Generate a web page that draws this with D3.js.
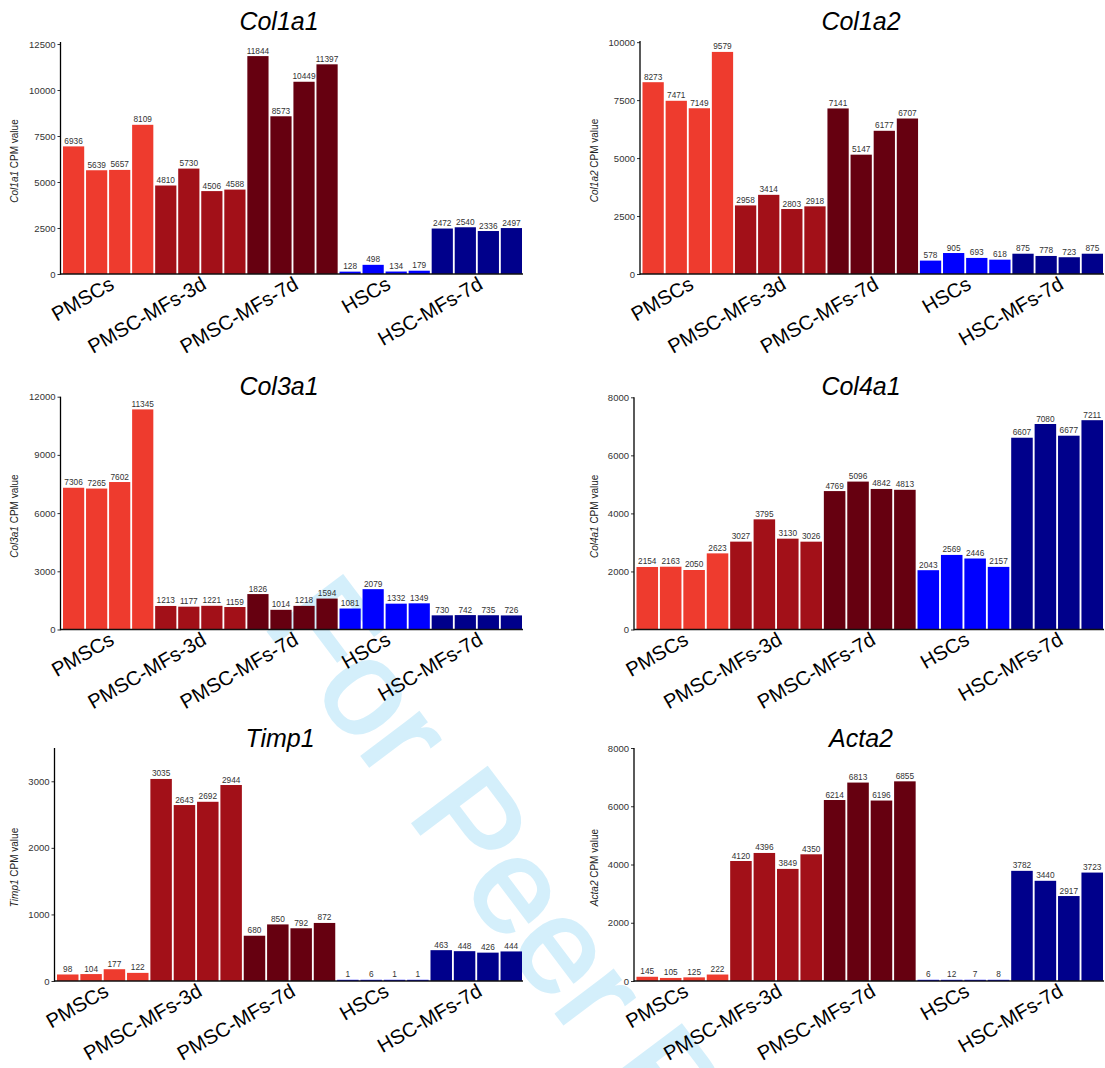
<!DOCTYPE html>
<html><head><meta charset="utf-8">
<script src="https://cdn.jsdelivr.net/npm/d3@7"></script>
<style>
html,body{margin:0;padding:0;background:#fff;}
svg text{font-family:"Liberation Sans",Arial,sans-serif;}
</style></head>
<body>
<svg id="chart" width="1105" height="1068"></svg>
<script>
// ---------------- data ----------------
const groups = ["PMSCs","PMSC-MFs-3d","PMSC-MFs-7d","HSCs","HSC-MFs-7d"];
const groupColors = ["#EE3B2E","#A21018","#660010","#0000FF","#00008B"];
const samplesPerGroup = 4;

const col1a1 = [6936,5639,5657,8109, 4810,5730,4506,4588, 11844,8573,10449,11397, 128,498,134,179, 2472,2540,2336,2497];
const col1a2 = [8273,7471,7149,9579, 2958,3414,2803,2918, 7141,5147,6177,6707, 578,905,693,618, 875,778,723,875];
const col3a1 = [7306,7265,7602,11345, 1213,1177,1221,1159, 1826,1014,1218,1594, 1081,2079,1332,1349, 730,742,735,726];
const col4a1 = [2154,2163,2050,2623, 3027,3795,3130,3026, 4769,5096,4842,4813, 2043,2569,2446,2157, 6607,7080,6677,7211];
const timp1  = [98,104,177,122, 3035,2643,2692,2944, 680,850,792,872, 1,6,1,1, 463,448,426,444];
const acta2  = [145,105,125,222, 4120,4396,3849,4350, 6214,6813,6196,6855, 6,12,7,8, 3782,3440,2917,3723];

const col1a1Ticks = [0,2500,5000,7500,10000,12500];
const col1a2Ticks = [0,2500,5000,7500,10000];
const col3a1Ticks = [0,3000,6000,9000,12000];
const col4a1Ticks = [0,2000,4000,6000,8000];
const timp1Ticks  = [0,1000,2000,3000];
const acta2Ticks  = [0,2000,4000,6000,8000];

const watermarkText = "For Peer Review";

// ---------------- layout ----------------
const panels = [
  {gene:"Col1a1", values:col1a1, ticks:col1a1Ticks, yMax:12610, axisX:60.5, barEnd:522, y0:274, yTop:42, titleX:279, titleY:30, labX:14},
  {gene:"Col1a2", values:col1a2, ticks:col1a2Ticks, yMax:10050, axisX:640,  barEnd:1103, y0:274, yTop:41, titleX:861, titleY:30, labX:594},
  {gene:"Col3a1", values:col3a1, ticks:col3a1Ticks, yMax:12000, axisX:60.5, barEnd:522, y0:629.5, yTop:396.7, titleX:279, titleY:395, labX:14},
  {gene:"Col4a1", values:col4a1, ticks:col4a1Ticks, yMax:8000,  axisX:634,  barEnd:1103, y0:629.5, yTop:397.3, titleX:861, titleY:395, labX:594},
  {gene:"Timp1",  values:timp1,  ticks:timp1Ticks,  yMax:3500,  axisX:54.5, barEnd:522, y0:981, yTop:748, titleX:280, titleY:747, labX:14},
  {gene:"Acta2",  values:acta2,  ticks:acta2Ticks,  yMax:8000,  axisX:634,  barEnd:1103, y0:981, yTop:748, titleX:861, titleY:747, labX:594}
];

const svg = d3.select("#chart");

// watermark (behind the charts)
svg.append("text")
  .attr("transform","translate(262,623) rotate(53)")
  .attr("font-size",135)
  .attr("fill","#D4EFFB")
  .attr("stroke","#D4EFFB")
  .attr("stroke-width",3)
  .text(watermarkText);

panels.forEach(p => {
  const n = p.values.length;
  const idx = d3.range(n);
  const x = d3.scaleBand().domain(idx).range([p.axisX + 2.5, p.barEnd]).paddingInner(0.08).paddingOuter(0);
  const y = d3.scaleLinear().domain([0, p.yMax]).range([p.y0, p.yTop]);
  const g = svg.append("g");
  const gi = i => Math.floor(i / samplesPerGroup);

  // bars
  g.selectAll("rect.bar").data(p.values).enter().append("rect")
    .attr("x",(d,i)=>x(i))
    .attr("width",x.bandwidth())
    .attr("y",d=>Math.min(y(d), p.y0-1.2))
    .attr("height",d=>Math.max(p.y0 - y(d),1.2))
    .attr("fill",(d,i)=>groupColors[gi(i)]);

  // value labels
  g.selectAll("text.val").data(p.values).enter().append("text")
    .attr("x",(d,i)=>x(i)+x.bandwidth()/2)
    .attr("y",d=>Math.min(y(d), p.y0-1.2)-2.5)
    .attr("text-anchor","middle")
    .attr("font-size",8.3)
    .attr("fill","#333")
    .text(d=>d);

  // y axis
  const yAxis = d3.axisLeft(y).tickValues(p.ticks).tickSize(3).tickPadding(2).tickFormat(d3.format("d"));
  const ga = g.append("g").attr("transform",`translate(${p.axisX},0)`).call(yAxis);
  ga.select(".domain").remove();
  ga.selectAll(".tick line").attr("stroke","#333");
  ga.selectAll(".tick text").attr("font-size",9.5).attr("fill","#333").attr("font-family","Liberation Sans, Arial, sans-serif");
  g.append("line").attr("x1",p.axisX).attr("x2",p.axisX).attr("y1",y(0)+0.75).attr("y2",p.yTop)
    .attr("stroke","#000").attr("stroke-width",1.3);
  // x axis line
  g.append("line").attr("x1",p.axisX).attr("x2",p.barEnd+1).attr("y1",y(0)).attr("y2",y(0))
    .attr("stroke","#111").attr("stroke-width",1.5);

  // category labels
  groups.forEach((grp,k)=>{
    const cx = (x(k*samplesPerGroup) + x(k*samplesPerGroup+samplesPerGroup-1) + x.bandwidth())/2;
    g.append("text")
      .attr("transform",`translate(${cx},${p.y0+1.5}) rotate(-30)`)
      .attr("text-anchor","end")
      .attr("dy","0.72em")
      .attr("font-size",20)
      .attr("fill","#000")
      .text(grp);
  });

  // title
  g.append("text").attr("x",p.titleX).attr("y",p.titleY)
    .attr("text-anchor","middle").attr("font-size",25).attr("font-style","italic").attr("fill","#000")
    .text(p.gene);

  // y label
  const lab = g.append("text")
    .attr("transform",`translate(${p.labX+3.5},${(p.y0+p.yTop)/2+3}) rotate(-90)`)
    .attr("text-anchor","middle").attr("font-size",10).attr("fill","#222");
  lab.append("tspan").attr("font-style","italic").text(p.gene);
  lab.append("tspan").text(" CPM value");
});
</script>
</body></html>
